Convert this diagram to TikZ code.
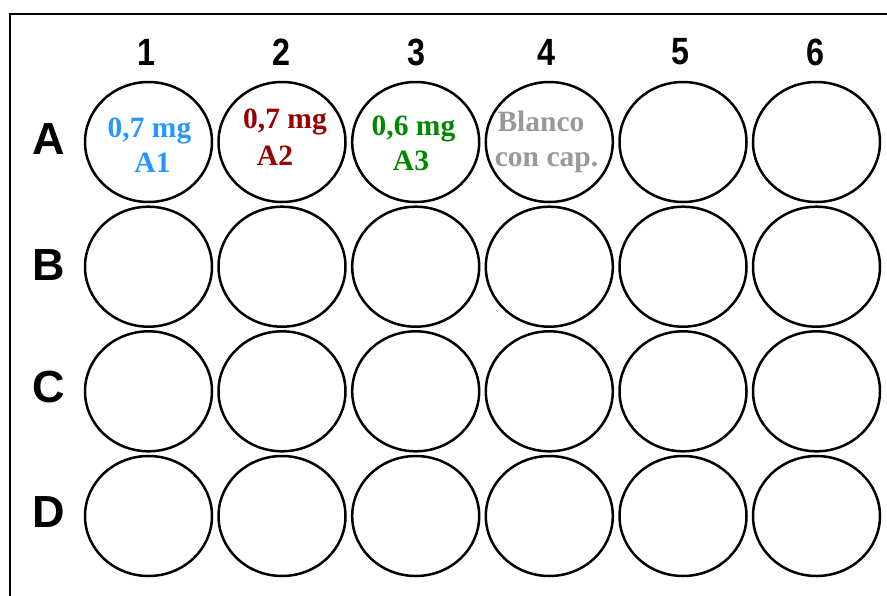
\documentclass[tikz,border=0pt]{standalone}
\usepackage{fontspec}
\setmainfont{Liberation Serif}
\newfontfamily\labfont{Liberation Sans}
\usetikzlibrary{shapes.geometric}
\definecolor{wellblue}{RGB}{40,150,255}
\definecolor{wellred}{RGB}{150,0,0}
\definecolor{wellgreen}{RGB}{0,135,0}
\definecolor{wellgray}{RGB}{153,153,153}
\begin{document}
\begin{tikzpicture}[x=1pt,y=-1pt,
  well/.style={draw, ellipse, line width=2.5pt, minimum width=127pt, minimum height=120pt, inner sep=0pt},
  collab/.style={font=\labfont\bfseries\fontsize{38}{38}\selectfont, inner sep=0pt, xscale=0.85},
  rowlab/.style={font=\labfont\bfseries\fontsize{45}{45}\selectfont, inner sep=0pt},
  welltext/.style={font=\bfseries\fontsize{29.5}{30}\selectfont, anchor=base, inner sep=0pt}]
\useasboundingbox (0,0) rectangle (887,595);
\fill[white] (0,0) rectangle (887,595);
\draw[line width=2.8pt] (10,14) rectangle (910,620);
\foreach \c/\x/\lx in {1/148.5/146,2/282/281,3/415.7/416,4/549.3/546,5/683/680,6/816.5/815} {
  \node[collab] (col\c) at (\lx,52) {\c};
  \foreach \r/\y in {A/142,B/266.7,C/391.3,D/516} {
    \node[well] (\r\c) at (\x,\y) {};
  }
}
\node[rowlab] (rowA) at (48.5,139) {A};
\node[rowlab] (rowB) at (49,265) {B};
\node[rowlab] (rowC) at (49,387) {C};
\node[rowlab] (rowD) at (49,512) {D};
\node[welltext, text=wellblue] (tA1a) at (149.5,137) {0,7 mg};
\node[welltext, text=wellblue] (tA1b) at (152.5,172) {A1};
\node[welltext, text=wellred] (tA2a) at (285,128) {0,7 mg};
\node[welltext, text=wellred] (tA2b) at (275,165) {A2};
\node[welltext, text=wellgreen] (tA3a) at (413.5,135) {0,6 mg};
\node[welltext, text=wellgreen] (tA3b) at (411,170) {A3};
\node[welltext, text=wellgray] (tA4a) at (541,131) {Blanco};
\node[welltext, text=wellgray] (tA4b) at (546.5,166) {con cap.};
\end{tikzpicture}
\end{document}
